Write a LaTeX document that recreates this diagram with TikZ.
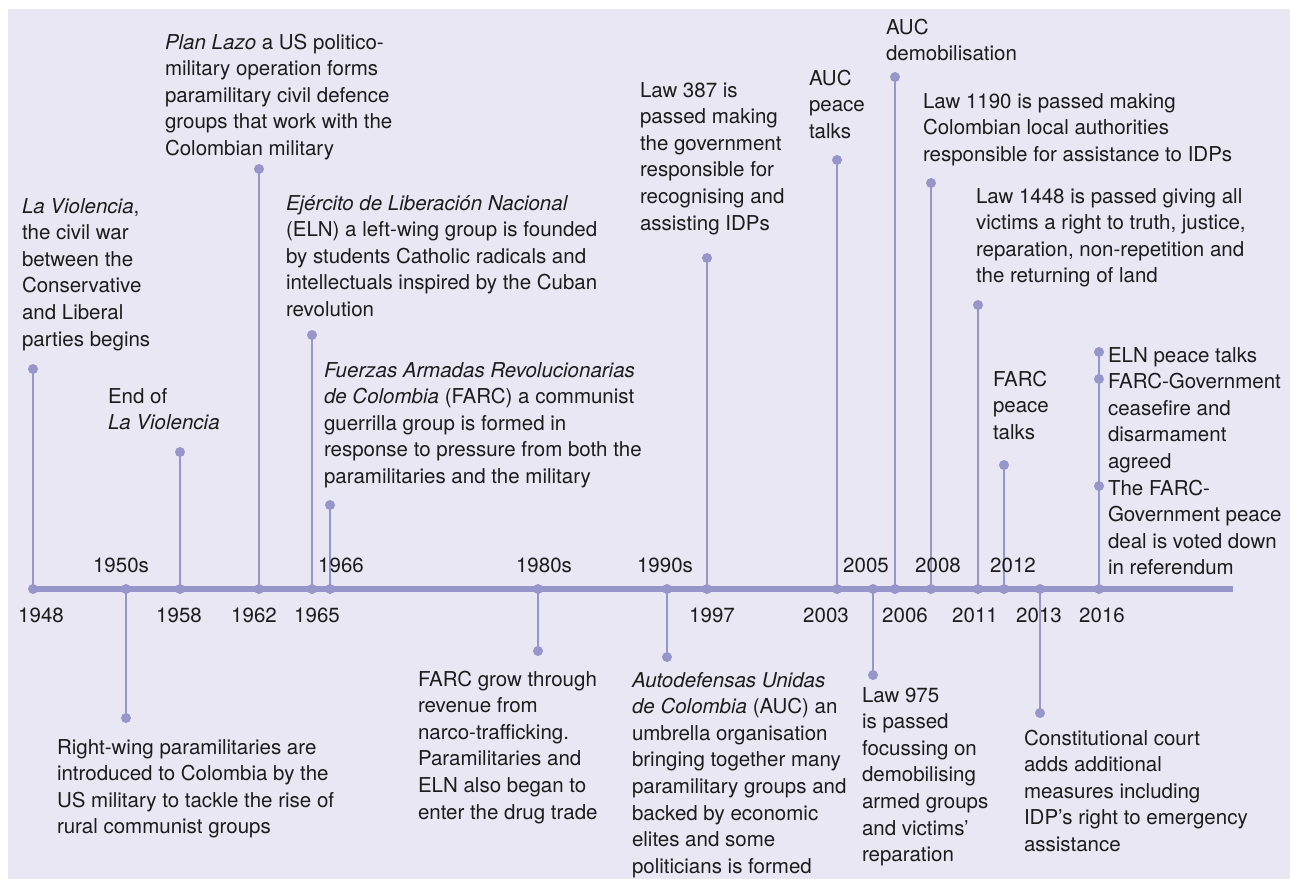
\documentclass[tikz,border=0pt]{standalone}
\usepackage{fontspec}
\setmainfont{TeX Gyre Heros}
\definecolor{bg}{HTML}{E9E7F3}
\definecolor{lc}{HTML}{9696CA}
\definecolor{ink}{HTML}{1C1C1C}
\newcommand\fs{\rule{0pt}{20pt}}
\begin{document}
\begin{tikzpicture}[x=1pt,y=-1pt,
  txt/.style={anchor=north west, inner sep=0pt, outer sep=0pt, align=left, text=ink,
    font=\fontsize{20.5}{26.6}\selectfont, yshift=20pt},
  yr/.style={anchor=base, inner sep=0pt, text=ink, font=\fontsize{20.5}{26.6}\selectfont},
  dot/.style={circle, fill=lc, inner sep=0pt, minimum size=10pt},
  stem/.style={draw=lc, line width=2.6pt},
  axis/.style={draw=lc, line width=5.5pt}]
\useasboundingbox (0,0) rectangle (1290,879);
\fill[bg] (8,9) rectangle (1290,879);

% timeline
\coordinate (lstart) at (33,589);
\coordinate (lend) at (1233,589);
\draw[axis] (lstart) -- (lend);

% stems (line point -> end dot)
\foreach \n/\x/\y in {a/33/369, b/126/718, c/180/452, d/259/169, e/312/335, f/330/505,
  g/538/651, h/667/657, i/707/258, j/837/160, k/873/675, l/895/77, m/931/183,
  n/978/305, o/1004/465, p/1040/713, q/1099/352}{
  \node[dot] (on\n) at (\x,589) {};
  \node[dot] (end\n) at (\x,\y) {};
  \draw[stem] (on\n.center) -- (end\n.center);
}
\node[dot] (q2) at (1099,379) {};
\node[dot] (q3) at (1099,486) {};

% texts
\node[txt] (ta) at (22,213) {\fs\textit{La Violencia},\\the civil war\\between the\\Conservative\\and Liberal\\parties begins};
\node[txt] (tb) at (57,754) {\fs Right-wing paramilitaries are\\introduced to Colombia by the\\US military to tackle the rise of\\rural communist groups};
\node[txt] (tc) at (108,403) {\fs End of\\\textit{La Violencia}};
\node[txt] (td) at (165,49) {\fs\textit{Plan Lazo} a US politico-\\military operation forms\\paramilitary civil defence\\groups that work with the\\Colombian military};
\node[txt] (te) at (286,210) {\fs\textit{Ejército de Liberación Nacional}\\(ELN) a left-wing group is founded\\by students Catholic radicals and\\intellectuals inspired by the Cuban\\revolution};
\node[txt] (tf) at (324,377) {\fs\textit{Fuerzas Armadas Revolucionarias}\\\textit{de Colombia} (FARC) a communist\\guerrilla group is formed in\\response to pressure from both the\\paramilitaries and the military};
\node[txt] (tg) at (418,686) {\fs FARC grow through\\revenue from\\narco-trafficking.\\Paramilitaries and\\ELN also began to\\enter the drug trade};
\node[txt] (th) at (632,687) {\fs\textit{Autodefensas Unidas}\\\textit{de Colombia} (AUC) an\\umbrella organisation\\bringing together many\\paramilitary groups and\\backed by economic\\elites and some\\politicians is formed};
\node[txt] (ti) at (640,97) {\fs Law 387 is\\passed making\\the government\\responsible for\\recognising and\\assisting IDPs};
\node[txt] (tj) at (809,85) {\fs AUC\\peace\\talks};
\node[txt] (tk) at (862,702) {\fs Law 975\\is passed\\focussing on\\demobilising\\armed groups\\and victims’\\reparation};
\node[txt] (tl) at (886,34) {\fs AUC\\demobilisation};
\node[txt] (tm) at (923,108) {\fs Law 1190 is passed making\\Colombian local authorities\\responsible for assistance to IDPs};
\node[txt] (tn) at (976,203) {\fs Law 1448 is passed giving all\\victims a right to truth, justice,\\reparation, non-repetition and\\the returning of land};
\node[txt] (to) at (993,386) {\fs FARC\\peace\\talks};
\node[txt] (tp) at (1024,745) {\fs Constitutional court\\adds additional\\measures including\\IDP’s right to emergency\\assistance};
\node[txt] (tq) at (1108,362) {\fs ELN peace talks\\FARC-Government\\ceasefire and\\disarmament\\agreed\\The FARC-\\Government peace\\deal is voted down\\in referendum};

% year labels
\node[yr] (ya) at (41,622) {1948};
\node[yr] (yb) at (121,572) {1950s};
\node[yr] (yc) at (179,622) {1958};
\node[yr] (yd) at (254,622) {1962};
\node[yr] (ye) at (317,622) {1965};
\node[yr] (yf) at (341,572) {1966};
\node[yr] (yg) at (544,572) {1980s};
\node[yr] (yh) at (665,572) {1990s};
\node[yr] (yi) at (712,622) {1997};
\node[yr] (yj) at (826,622) {2003};
\node[yr] (yk) at (866,572) {2005};
\node[yr] (yl) at (905,622) {2006};
\node[yr] (ym) at (938,572) {2008};
\node[yr] (yn) at (975,622) {2011};
\node[yr] (yo) at (1013,572) {2012};
\node[yr] (yp) at (1039,622) {2013};
\node[yr] (yq) at (1102,622) {2016};
\end{tikzpicture}
\end{document}
